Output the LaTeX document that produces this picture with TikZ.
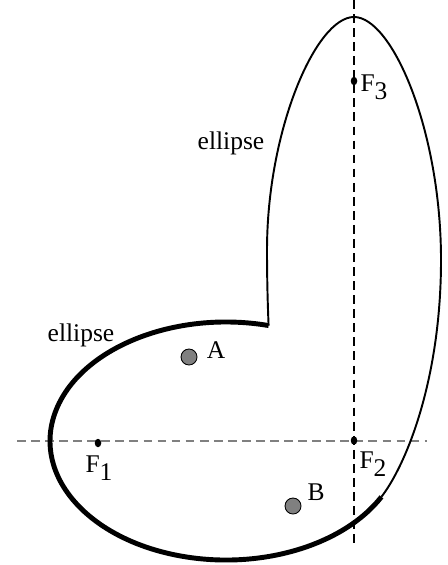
\documentclass[tikz,border=0pt]{standalone}
\usepackage{fontspec}
\setmainfont{Liberation Serif}
\usetikzlibrary{shapes.geometric}
\newcommand{\foc}[1]{F\raisebox{-0.3em}{#1}}

\begin{document}
\begin{tikzpicture}[
			focus/.style={ellipse, fill=black, inner sep=0pt, minimum width=0.13cm, minimum height=0.17cm},
			point/.style={circle, draw=black, fill=gray, line width=0.5pt, minimum size=0.32cm, inner sep=0pt},
			lbl/.style={inner sep=0pt, font=\fontsize{14.5}{16}\selectfont},
			axis/.style={dash pattern=on 5pt off 3pt, line width=0.8pt},
			curve/.style={line width=1.1pt},
			rim/.style={line width=2.8pt}
			]
			\useasboundingbox (0,0) rectangle (8.94,-11.3);
			
			% axes through the foci
			\coordinate (hl) at (0.34,-8.82);
			\coordinate (hr) at (8.54,-8.82);
			\coordinate (vt) at (7.08,0);
			\coordinate (vb) at (7.08,-10.94);
			\draw[axis, gray] (hl) -- (hr);
			\draw[axis, black, line width=0.6pt] (vt) -- (vb);
			
			% the two arcs
			\coordinate (j1) at (5.372,-6.511);
			\coordinate (j2) at (7.628,-9.937);
			\draw[rim] (j1) arc[start angle=76, end angle=332, x radius=3.52, y radius=2.38];
			\draw[curve] (j1) .. controls (5.35,-6.00) and (5.34,-5.50) .. (5.34,-5.00)
				.. controls (5.34,-2.60) and (6.32,-0.34) .. (7.08,-0.34)
				.. controls (7.84,-0.34) and (8.82,-2.60) .. (8.82,-5.20)
				.. controls (8.82,-7.60) and (8.12,-9.30) .. (j2);
			
			\node[focus] (f1) at (1.96,-8.86) {};
			\node[focus] (f2) at (7.08,-8.81) {};
			\node[focus] (f3) at (7.08,-1.62) {};
			\node[lbl] (l1) at (1.98,-9.36) {\foc{1}};
			\node[lbl] (l2) at (7.46,-9.28) {\foc{2}};
			\node[lbl] (l3) at (7.48,-1.74) {\foc{3}};
			
			\node[point] (pa) at (3.78,-7.14) {};
			\node[point] (pb) at (5.86,-10.12) {};
			\node[lbl] (la) at (4.32,-7.00) {A};
			\node[lbl] (lb) at (6.32,-9.84) {B};
			
			\node[lbl] (e1) at (1.62,-6.70) {ellipse};
			\node[lbl] (e2) at (4.62,-2.86) {ellipse};
		\end{tikzpicture}
\end{document}
